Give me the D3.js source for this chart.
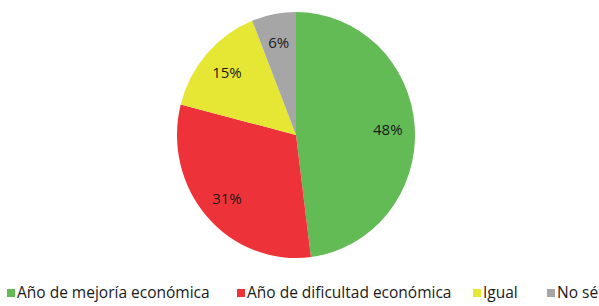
<!DOCTYPE html>
<html><head><meta charset="utf-8">
<script src="https://cdn.jsdelivr.net/npm/d3@7"></script>
<style>body{margin:0;background:#fff}svg{display:block}</style>
</head><body>
<svg id="c" width="599" height="306"></svg>
<script>
const categories = ["Año de mejoría económica", "Año de dificultad económica", "Igual", "No sé"];
const values = [48, 31, 15, 6];
const colors = ["#62bb55", "#ee3239", "#e6e635", "#a6a6a6"];

const svg = d3.select("#c");
const cx = 296, cy = 135, r = 119, sy = 123 / 119;
const data = categories.map((c, i) => ({cat: c, value: values[i], color: colors[i]}));
const pie = d3.pie().sort(null).value(d => d.value);
const arcs = pie(data);
const arc = d3.arc().innerRadius(0).outerRadius(r);
const labelArc = d3.arc().innerRadius(92).outerRadius(92);

const g = svg.append("g").attr("transform", `translate(${cx},${cy}) scale(1,${sy})`);
g.selectAll("path").data(arcs).join("path")
  .attr("d", arc).attr("fill", d => d.data.color);

const lg = svg.append("g").attr("transform", `translate(${cx},${cy})`);
lg.selectAll("text").data(arcs).join("text")
  .attr("x", d => labelArc.centroid(d)[0])
  .attr("y", d => labelArc.centroid(d)[1] * sy)
  .attr("text-anchor", "middle").attr("dominant-baseline", "central")
  .attr("font-family", "Open Sans, sans-serif").attr("font-size", 15)
  .attr("fill", "#1a1a1a")
  .text(d => d.value + "%");

// legend layout: items flow left to right
const leg = svg.append("g");
const legendStarts = [7, 237, 473, 547];
const items = leg.selectAll("g").data(data).join("g")
  .attr("transform", (d, i) => `translate(${legendStarts[i]},0)`);
items.append("rect").attr("x", 0).attr("y", 289).attr("width", 8).attr("height", 8)
  .attr("fill", d => d.color);
items.append("text").attr("x", 10).attr("y", 298)
  .attr("font-family", "Open Sans, sans-serif").attr("font-size", 15.5)
  .attr("fill", "#1a1a1a").text(d => d.cat);
</script>
</body></html>
